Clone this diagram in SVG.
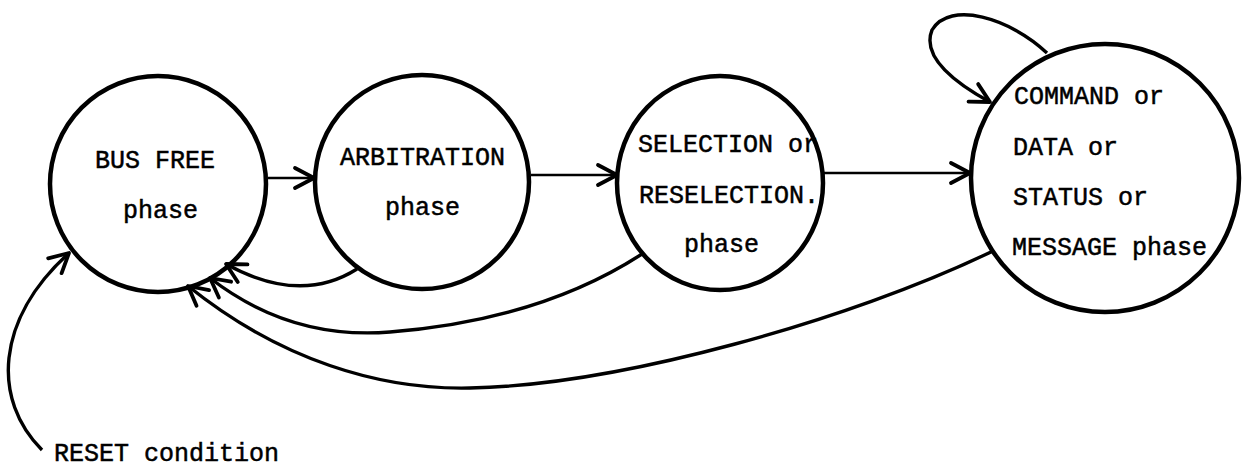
<svg xmlns="http://www.w3.org/2000/svg" width="1242" height="470" viewBox="0 0 1242 470">
<style>
.node{fill:none;stroke:#000;stroke-width:4.5}
.lbl{font-family:"Liberation Mono","Courier New",monospace;font-size:25px;fill:#000;stroke:#000;stroke-width:0.5}
.edge{fill:none;stroke:#000;stroke-width:3.4}
.thin{fill:none;stroke:#000;stroke-width:2.4}
</style>
<defs>
<marker id="arr" markerUnits="userSpaceOnUse" viewBox="-24 -14 28 28" refX="0" refY="0" markerWidth="28" markerHeight="28" orient="auto">
<path d="M-19,-10 L0,0 L-19,10" fill="none" stroke="#000" stroke-width="3.8" stroke-linecap="round" stroke-linejoin="round"/>
</marker>
</defs>
<rect width="1242" height="470" fill="#fff"/>
<g id="bus-free">
<circle class="node" cx="158" cy="184" r="108"/>
<text class="lbl" x="95" y="168">BUS FREE</text>
<text class="lbl" x="123" y="218">phase</text>
</g>
<g id="arbitration">
<circle class="node" cx="422" cy="182" r="107"/>
<text class="lbl" x="340" y="165">ARBITRATION</text>
<text class="lbl" x="385" y="215">phase</text>
</g>
<g id="selection">
<ellipse class="node" cx="720" cy="183" rx="103" ry="107"/>
<text class="lbl" x="638" y="152">SELECTION or</text>
<text class="lbl" x="639" y="203">RESELECTION.</text>
<text class="lbl" x="684" y="252">phase</text>
</g>
<g id="information">
<circle class="node" cx="1105" cy="178" r="134"/>
<text class="lbl" x="1014" y="104">COMMAND or</text>
<text class="lbl" x="1013" y="155">DATA or</text>
<text class="lbl" x="1013" y="205">STATUS or</text>
<text class="lbl" x="1012" y="255">MESSAGE phase</text>
</g>
<g id="reset">
<text class="lbl" x="54" y="461">RESET condition</text>
</g>
<g id="connectors">
<path class="thin" d="M268,178 L314,178" marker-end="url(#arr)"/>
<path class="thin" d="M531,175 L617,175" marker-end="url(#arr)"/>
<path class="thin" d="M823,173 L970,173" marker-end="url(#arr)"/>
<path class="edge" d="M1047,53 C1010,18 950,0 932,30 C922,55 950,80 990,102" marker-end="url(#arr)"/>
<path class="edge" d="M357,269 Q300,305 226,264" marker-end="url(#arr)"/>
<path class="edge" d="M642,254 Q540,320 390,332 Q290,340 210,278" marker-end="url(#arr)"/>
<path class="edge" d="M993,251 C850,320 620,385 470,388 C380,390 280,360 188,286" marker-end="url(#arr)"/>
<path class="edge" d="M42,450 C-8,400 -5,320 69,253" marker-end="url(#arr)"/>
</g>
</svg>
